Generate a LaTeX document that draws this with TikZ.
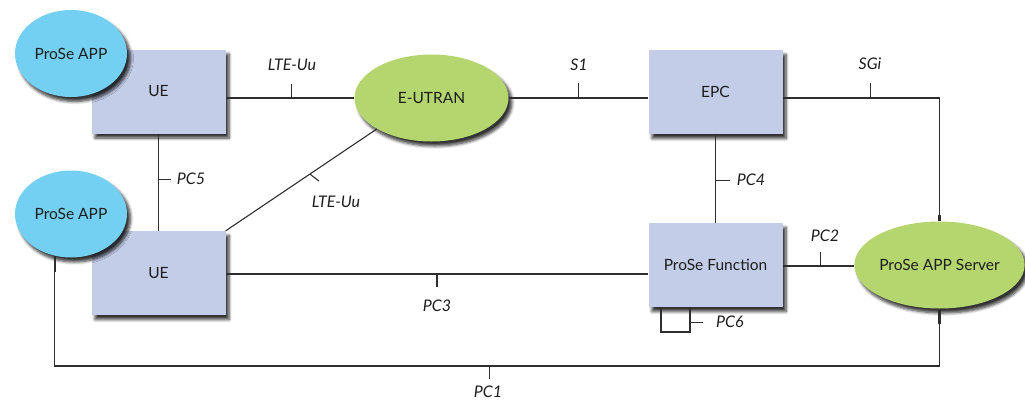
\documentclass[tikz,border=0pt]{standalone}
\usepackage{fontspec}
\setmainfont{Lato}
\usetikzlibrary{shapes.geometric,shadows.blur}
\definecolor{boxfill}{HTML}{C3CDE7}
\definecolor{appblue}{HTML}{74D0F2}
\definecolor{netgreen}{HTML}{B5D56F}
\definecolor{linec}{HTML}{2E2E2E}
\definecolor{txt}{HTML}{1E1E1E}
\begin{document}
\begin{tikzpicture}[x=1pt,y=-1pt,
  shd/.style={blur shadow={shadow xshift=3.5pt,shadow yshift=-4.5pt,shadow blur steps=6,shadow blur radius=3pt,shadow opacity=80}},
  entity/.style={shd,draw=none,fill=boxfill,minimum width=134pt,minimum height=84pt,inner sep=0pt,text=txt,font=\fontsize{15.5}{17}\selectfont},
  app/.style={shd,ellipse,draw=none,fill=appblue,minimum width=112pt,minimum height=87pt,inner sep=0pt,text=txt,font=\fontsize{15.5}{17}\selectfont},
  net/.style={shd,ellipse,draw=none,fill=netgreen,minimum width=154pt,minimum height=87pt,inner sep=0pt,text=txt,font=\fontsize{15.5}{17}\selectfont},
  conn/.style={draw=linec,line width=1.1pt},
  thickend/.style={draw=linec,line width=2.6pt},
  lbl/.style={text=txt,inner sep=0pt,font=\fontsize{16}{18}\selectfont\itshape}
]
\useasboundingbox (0,0) rectangle (1025,407);

% boxes
\node[entity] (ue1) at (158.5,91.5) {UE};
\node[entity] (ue2) at (158.5,273) {UE};
\node[entity] (epc) at (715.5,92) {EPC};
\node[entity] (pf)  at (715.5,265) {ProSe Function};
% ellipses
\node[app] (app1) at (71,53.5) {ProSe APP};
\node[app] (app2) at (71,214) {ProSe APP};
\node[net] (eutran) at (431.5,98) {E-UTRAN};
\node[net] (srv) at (939.5,265) {ProSe APP Server};

% LTE-Uu (UE1 - E-UTRAN)
\draw[conn] (ue1.east |- eutran.west) -- coordinate[pos=0.515] (tluu) (eutran.west);
\draw[conn] (tluu) -- ++(0,-14);
\draw[thickend] (eutran.west) -- ++(-7,0);
\node[lbl] (luu1) at (292,65) {LTE-Uu};

% S1
\draw[conn] (eutran.east) -- coordinate[pos=0.50] (ts1) (eutran.east -| epc.west);
\draw[conn] (ts1) -- ++(0,-15);
\draw[thickend] (eutran.east) -- ++(12,0);
\draw[line width=1.8pt,draw=linec] (eutran.east -| epc.west) -- ++(-7,0);
\node[lbl] (ls1) at (579,65) {S1};

% SGi
\coordinate (sgic) at (srv.north |- eutran.east);
\draw[conn] (epc.east |- eutran.east) -- coordinate[pos=0.56] (tsgi) (sgic) -- (srv.north);
\draw[conn] (tsgi) -- ++(0,-15);
\draw[thickend] (srv.north) -- ++(0,-6);
\node[lbl] (lsgi) at (870,64) {SGi};

% PC5
\draw[conn] (ue1.south) -- coordinate[pos=0.475] (tpc5) (ue2.north);
\draw[conn] (tpc5) -- ++(12,0);
\node[lbl] (lpc5) at (191,179) {PC5};

% LTE-Uu diagonal
\draw[conn] (ue2.north east) -- coordinate[pos=0.557] (tluu2) (eutran.south west);
\draw[conn] (tluu2) -- ++(9,7);
\node[lbl] (luu2) at (336,202) {LTE-Uu};

% PC4
\draw[conn] (epc.south) -- coordinate[pos=0.52] (tpc4) (pf.north);
\draw[conn] (tpc4) -- ++(14,0);
\node[lbl] (lpc4) at (751,180) {PC4};

% PC3
\draw[conn] (ue2.east |- 0,274) -- coordinate[pos=0.5] (tpc3) (pf.west |- 0,274);
\draw[conn] (tpc3) -- ++(0,13);
\draw[line width=1.8pt,draw=linec] (pf.west |- 0,274) -- ++(-7,0);
\node[lbl] (lpc3) at (437,306) {PC3};

% PC2
\draw[draw=linec,line width=2pt] (pf.east |- 0,266) -- coordinate[pos=0.53] (tpc2) (srv.west |- 0,266);
\draw[conn] (tpc2) -- ++(0,-14);
\node[lbl] (lpc2) at (825,236) {PC2};

% PC6 loop
\coordinate (p6a) at (661,332);
\coordinate (p6b) at (690,332);
\draw[conn] (pf.south -| p6a) -- (p6a) -- (p6b) -- coordinate[pos=0.4] (tpc6) (pf.south -| p6b);
\draw[conn] (tpc6) -- ++(13,0);
\node[lbl] (lpc6) at (730,322) {PC6};

% PC1
\coordinate (pc1l) at (app2.249 |- 0,366);
\coordinate (pc1r) at (srv.south |- 0,366);
\draw[conn] (app2.249) -- (pc1l) -- coordinate[pos=0.491] (tpc1) (pc1r) -- (srv.south);
\draw[conn] (tpc1) -- ++(0,13);
\draw[thickend] (app2.249) -- ++(0,16);
\draw[thickend] (srv.south) -- ++(0,15);
\node[lbl] (lpc1) at (488,392) {PC1};
\end{tikzpicture}
\end{document}
